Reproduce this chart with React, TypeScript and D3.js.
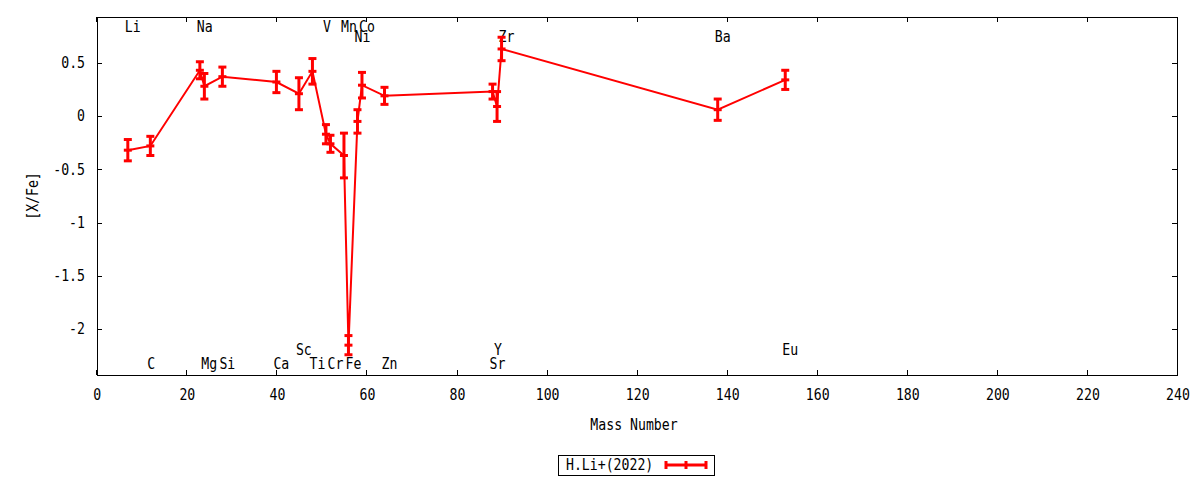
import React, { useEffect, useRef } from 'react'
import * as d3 from 'd3'

// element abundances, ordered by mass number
const elements = ['Li', 'C', 'Na', 'Mg', 'Si', 'Ca', 'Sc', 'Ti', 'V', 'Cr', 'Mn', 'Fe', 'Ni', 'Co', 'Zn', 'Sr', 'Y', 'Zr', 'Ba', 'Eu'];
const massNumbers = [7, 12, 23, 24, 28, 40, 45, 48, 51, 52, 55, 56, 58, 59, 64, 88, 89, 90, 138, 153];
const xFe = [-0.32, -0.28, 0.43, 0.28, 0.37, 0.32, 0.21, 0.42, -0.17, -0.26, -0.37, -2.15, -0.05, 0.29, 0.19, 0.23, 0.09, 0.63, 0.06, 0.34];
const xFeErr = [0.10, 0.09, 0.08, 0.12, 0.09, 0.10, 0.15, 0.12, 0.09, 0.08, 0.21, 0.09, 0.11, 0.12, 0.08, 0.07, 0.14, 0.11, 0.10, 0.09];
// label rows: y position (in [X/Fe]) where each element name is written
const labelY = [0.84, -2.32, 0.84, -2.32, -2.32, -2.32, -2.19, -2.32, 0.84, -2.32, 0.84, -2.32, 0.745, 0.84, -2.32, -2.32, -2.19, 0.745, 0.745, -2.19];

const xTicks = d3.range(0, 241, 20);
const yTicks = [0.5, 0, -0.5, -1, -1.5, -2];
const seriesName = 'H.Li+(2022)';

export default function App() {
  const svgRef = useRef<SVGSVGElement>(null);
  const width = 1200;
  const height = 480;

  useEffect(() => {
    if (!svgRef.current) return;
    d3.select(svgRef.current).selectAll('*').remove();
    const svg = d3.select(svgRef.current);

    const left = 97, right = 1177, top = 17, bottom = 375;
    const red = '#ff0000';
    const font = "'DejaVu Sans Mono', monospace";

    const xScale = d3.scaleLinear().domain([0, 240]).range([left - 0.7, right]);
    const yScale = d3.scaleLinear().domain([-2.43, 0.93]).range([bottom, top]);

    // narrow, tall monospace text like the gnuplot terminal font
    const txt = (x: number, y: number, s: string, anchor = 'start', rot = 0) =>
      svg.append('text')
        .attr('transform', `translate(${x},${y}) rotate(${rot}) scale(0.88,1)`)
        .attr('text-anchor', anchor)
        .attr('dominant-baseline', 'central')
        .attr('font-family', font)
        .attr('font-size', '15px')
        .attr('fill', '#000')
        .text(s);

    // frame
    svg.append('rect')
      .attr('x', left + 0.5).attr('y', top + 0.5)
      .attr('width', right - left).attr('height', bottom - top)
      .attr('fill', 'none').attr('stroke', '#000').attr('stroke-width', 1);

    // ticks (inward, mirrored)
    const tl = 5;
    xTicks.forEach(t => {
      const x = Math.round(xScale(t)) + 0.5;
      svg.append('line').attr('x1', x).attr('x2', x).attr('y1', bottom).attr('y2', bottom - tl).attr('stroke', '#000');
      svg.append('line').attr('x1', x).attr('x2', x).attr('y1', top).attr('y2', top + tl).attr('stroke', '#000');
      txt(xScale(t) + 1, 395, String(t), 'middle');
    });
    yTicks.forEach(t => {
      const y = Math.round(yScale(t)) + 0.5;
      svg.append('line').attr('x1', left).attr('x2', left + tl).attr('y1', y).attr('y2', y).attr('stroke', '#000');
      svg.append('line').attr('x1', right).attr('x2', right - tl).attr('y1', y).attr('y2', y).attr('stroke', '#000');
      txt(85, yScale(t), String(t), 'end');
    });

    // axis titles
    txt(634, 425, 'Mass Number', 'middle');
    txt(33, 196, '[X/Fe]', 'middle', -90);

    // element labels
    elements.forEach((el, i) => {
      txt(xScale(massNumbers[i]) - 3, yScale(labelY[i]), el);
    });

    // connecting line
    const line = d3.line<number>()
      .x((_, i) => xScale(massNumbers[i]))
      .y(d => yScale(d));
    svg.append('path')
      .datum(xFe)
      .attr('d', line)
      .attr('fill', 'none')
      .attr('stroke', red)
      .attr('stroke-width', 2);

    // error bars
    const cap = 4;
    xFe.forEach((v, i) => {
      const x = xScale(massNumbers[i]);
      const y0 = yScale(v - xFeErr[i]);
      const y1 = yScale(v + xFeErr[i]);
      const g = svg.append('g').attr('stroke', red).attr('stroke-width', 3);
      g.append('line').attr('x1', x).attr('x2', x).attr('y1', y0).attr('y2', y1);
      [y0, yScale(v), y1].forEach(y => {
        g.append('line').attr('x1', x - cap).attr('x2', x + cap).attr('y1', y).attr('y2', y);
      });
    });

    // legend
    svg.append('rect')
      .attr('x', 558.5).attr('y', 455.5)
      .attr('width', 156).attr('height', 20)
      .attr('fill', 'none').attr('stroke', '#000');
    txt(566, 465, seriesName);
    const lg = svg.append('g').attr('stroke', red).attr('stroke-width', 3);
    lg.append('line').attr('x1', 665).attr('x2', 707).attr('y1', 465).attr('y2', 465);
    [666, 686, 706].forEach(x => {
      lg.append('line').attr('x1', x).attr('x2', x).attr('y1', 461).attr('y2', 469);
    });
  }, []);

  return (
    <svg
      ref={svgRef}
      width={width}
      height={height}
      style={{ position: 'absolute', left: 0, top: 0, background: '#fff' }}
    />
  );
}
